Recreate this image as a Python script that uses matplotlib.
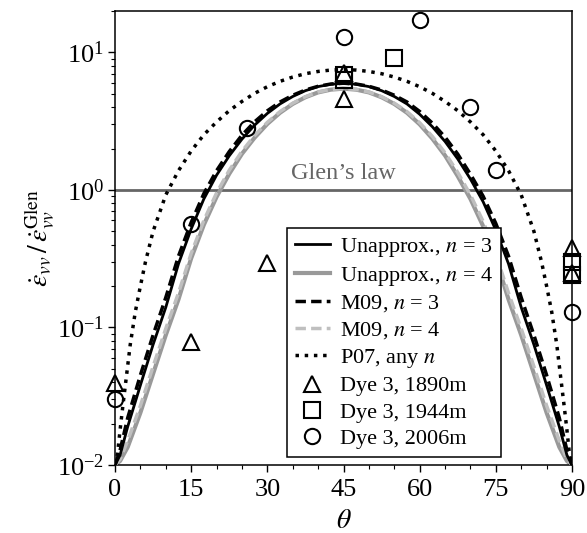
import matplotlib
matplotlib.use("Agg")
import matplotlib.pyplot as plt
from matplotlib.ticker import MultipleLocator, LogLocator, NullFormatter

plt.rcParams['font.family'] = ['Liberation Serif', 'DejaVu Serif']
plt.rcParams['mathtext.fontset'] = 'stix'

# ---- model curves ----
theta = [0, 1, 2.5, 5, 7.5, 10, 12.5, 15, 17.5, 20, 22.5, 25, 27.5, 30, 32.5, 35, 37.5, 40, 42.5, 45,
         47.5, 50, 52.5, 55, 57.5, 60, 62.5, 65, 67.5, 70, 72.5, 75, 77.5, 80, 82.5, 85, 87.5, 89, 90]

unapprox_n3 = [0.0100, 0.0118, 0.019, 0.038, 0.075, 0.14, 0.29, 0.52, 0.86, 1.28, 1.77, 2.34, 2.96, 3.6,
               4.22, 4.78, 5.27, 5.64, 5.87, 5.95,
               5.87, 5.64, 5.27, 4.78, 4.22, 3.55, 2.88, 2.25, 1.68, 1.2, 0.82, 0.51, 0.29, 0.14, 0.075,
               0.038, 0.019, 0.0118, 0.0100]
unapprox_n4 = [0.0100, 0.0107, 0.0135, 0.024, 0.046, 0.088, 0.16, 0.318, 0.558, 0.89, 1.31, 1.83, 2.40,
               3.02, 3.64, 4.22, 4.72, 5.12, 5.36, 5.45,
               5.36, 5.12, 4.72, 4.22, 3.64, 3.0, 2.36, 1.78, 1.26, 0.86, 0.545, 0.315, 0.16, 0.088,
               0.046, 0.024, 0.0135, 0.0107, 0.0100]
m09_n3 = [0.0100, 0.0128, 0.022, 0.045, 0.088, 0.165, 0.33, 0.58, 0.94, 1.38, 1.9, 2.5, 3.13, 3.76,
          4.36, 4.88, 5.33, 5.67, 5.89, 5.97,
          5.89, 5.67, 5.33, 4.88, 4.36, 3.72, 3.06, 2.42, 1.82, 1.3, 0.9, 0.57, 0.33, 0.165, 0.088,
          0.045, 0.022, 0.0128, 0.0100]
m09_n4 = [0.0100, 0.011, 0.015, 0.027, 0.052, 0.098, 0.178, 0.345, 0.6, 0.95, 1.39, 1.91, 2.49, 3.1,
          3.71, 4.27, 4.76, 5.15, 5.38, 5.47,
          5.38, 5.15, 4.76, 4.27, 3.71, 3.08, 2.45, 1.86, 1.34, 0.92, 0.59, 0.34, 0.178, 0.098, 0.052,
          0.027, 0.015, 0.011, 0.0100]

theta_p07 = [0, 0.5, 1, 1.5, 2, 3, 4, 5, 6, 7.5, 10, 12.5, 15, 17.5, 20, 22.5, 25, 27.5, 30, 32.5, 35,
             37.5, 40, 42.5, 45, 47.5, 50, 52.5, 55, 57.5, 60, 62.5, 65, 67.5, 70, 72.5, 75, 77.5, 80,
             82.5, 84, 85, 86, 87, 88, 88.5, 89, 89.5, 90]
p07 = [0.010, 0.012, 0.018, 0.026, 0.037, 0.075, 0.13, 0.20, 0.30, 0.50, 0.92, 1.38, 1.92, 2.52, 3.12,
       3.77, 4.4, 5.04, 5.63, 6.16, 6.62, 7.0, 7.27, 7.44, 7.5, 7.44, 7.27, 7.0, 6.62, 6.16, 5.63, 5.04,
       4.4, 3.77, 3.12, 2.52, 1.92, 1.38, 0.92, 0.50, 0.30, 0.20, 0.13, 0.075, 0.037, 0.026, 0.018,
       0.012, 0.010]

# ---- Dye 3 measurements ----
tri_theta = [0, 15, 30, 45, 45, 90, 90]
tri_val = [0.0395, 0.079, 0.295, 4.6, 7.1, 0.38, 0.25]
sq_theta = [45, 45, 55, 90, 90]
sq_val = [6.9, 6.3, 9.1, 0.30, 0.24]
circ_theta = [0, 15, 26, 45, 60, 70, 75, 90]
circ_val = [0.030, 0.57, 2.82, 13.0, 17.1, 4.0, 1.40, 0.13]

xticks = [0, 15, 30, 45, 60, 75, 90]

fig = plt.figure(figsize=(5.87, 5.33), dpi=100)
ax = fig.add_axes([115 / 587, (533 - 465) / 533, 457 / 587, 454 / 533])

ax.axhline(1.0, color='0.4', lw=2.0, zorder=1)
ax.annotate("Glen\u2019s law", xy=(45, 1.0), xytext=(0, 4), textcoords='offset points',
            ha='center', va='bottom', color='0.4', fontsize=17.5)

h_g4, = ax.plot(theta, unapprox_n4, color='0.6', lw=3.0, zorder=2)
h_g4d, = ax.plot(theta, m09_n4, color='0.75', lw=2.5, ls=(0, (3, 1.5)), zorder=3)
h_b3, = ax.plot(theta, unapprox_n3, color='black', lw=2.0, zorder=4)
h_b3d, = ax.plot(theta, m09_n3, color='black', lw=2.5, ls=(0, (3, 1.5)), zorder=5)
h_p07, = ax.plot(theta_p07, p07, color='black', lw=2.5, ls=(0, (1, 1.65)), zorder=5)

mk = dict(ls='none', mfc='none', mec='black', mew=1.5, ms=11, clip_on=False, zorder=6)
h_tri, = ax.plot(tri_theta, tri_val, marker='^', **mk)
h_sq, = ax.plot(sq_theta, sq_val, marker='s', **mk)
h_circ, = ax.plot(circ_theta, circ_val, marker='o', **mk)

ax.set_yscale('log')
ax.set_xlim(0, 90)
ax.set_ylim(0.01, 20)
ax.set_xticks(xticks)
ax.xaxis.set_minor_locator(MultipleLocator(5))
ax.yaxis.set_major_locator(LogLocator(base=10, numticks=10))
ax.yaxis.set_minor_locator(LogLocator(base=10, subs=range(2, 10), numticks=20))
ax.yaxis.set_minor_formatter(NullFormatter())
ax.tick_params(which='major', direction='out', length=5, width=1.0, labelsize=19, pad=3)
ax.tick_params(axis='x', which='major', pad=5)
ax.tick_params(which='minor', direction='out', length=3, width=0.8)
for s in ax.spines.values():
    s.set_linewidth(1.1)

ax.set_xlabel(r'$\theta$', fontsize=20, labelpad=6)
ax.set_ylabel(r'$\dot{\epsilon}_{vv}\,/\,\dot{\epsilon}_{vv}^{\mathrm{Glen}}$', fontsize=20, labelpad=0)

handles = [h_b3, h_g4, h_b3d, h_g4d, h_p07, h_tri, h_sq, h_circ]
labels = ['Unapprox., $n$ = 3', 'Unapprox., $n$ = 4', 'M09, $n$ = 3', 'M09, $n$ = 4',
          'P07, any $n$', 'Dye 3, 1890m', 'Dye 3, 1944m', 'Dye 3, 2006m']
leg = ax.legend(handles, labels, loc='lower left', bbox_to_anchor=(0.376, 0.018), fontsize=16,
                frameon=True, fancybox=False, edgecolor='black', framealpha=1.0,
                handlelength=1.6, handletextpad=0.45, labelspacing=0.26, borderpad=0.35,
                borderaxespad=0.0)
leg.get_frame().set_linewidth(1.1)

fig.savefig('out.png', dpi=100)
